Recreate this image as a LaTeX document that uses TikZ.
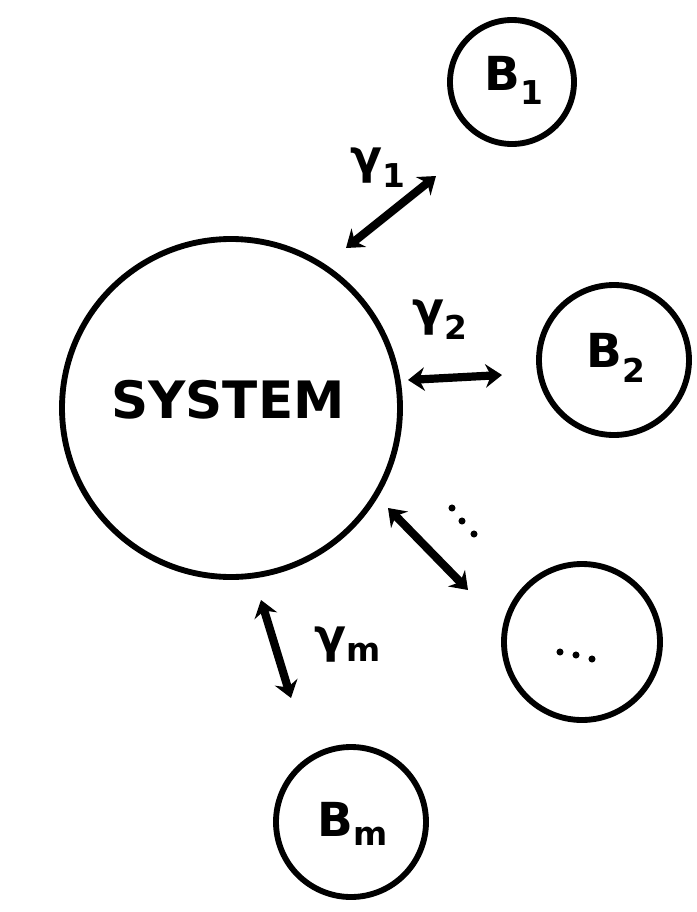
\documentclass[tikz,border=0pt]{standalone}
\usepackage{fontspec}
\setmainfont{DejaVu Sans}
\usetikzlibrary{arrows.meta}
\begin{document}
\begin{tikzpicture}[x=0.03cm,y=-0.03cm,
  ball/.style={circle,draw,line width=5pt,inner sep=0pt},
  link/.style={line width=7pt,{Stealth[length=14pt,width=20pt]}-{Stealth[length=14pt,width=20pt]}},
  lab/.style={font=\fontsize{40}{44}\selectfont\bfseries},
  dot/.style={circle,fill,inner sep=0pt,minimum size=6pt}]
\useasboundingbox (0,0) rectangle (697,912);
\node[ball,minimum size=338*0.03cm] (sys) at (231,408) {};
\node[font=\fontsize{44}{50}\selectfont\bfseries] (syst) at (228,400) {SYSTEM};
\node[ball,minimum size=124*0.03cm] (b1) at (512,82) {};
\node[lab] (b1t) at (514,80) {B\textsubscript{1}};
\node[ball,minimum size=150*0.03cm] (b2) at (614,360) {};
\node[lab] (b2t) at (616,358) {B\textsubscript{2}};
\node[ball,minimum size=156*0.03cm] (b3) at (582,642) {};
\node[ball,minimum size=150*0.03cm] (bm) at (351,822) {};
\node[lab] (bmt) at (353,824) {B\textsubscript{m}};
% dots inside the third circle
\node[dot] (d1) at (560,652) {};
\node[dot] (d2) at (576,655) {};
\node[dot] (d3) at (592,659) {};
% vertical dots label
\node[dot] (v1) at (452,508) {};
\node[dot] (v2) at (462,521) {};
\node[dot] (v3) at (474,534) {};
% arrows
\coordinate (a1s) at (346,248);
\coordinate (a1e) at (436,176);
\coordinate (a2s) at (408,380);
\coordinate (a2e) at (502,375);
\coordinate (a3s) at (388,508);
\coordinate (a3e) at (468,590);
\coordinate (a4s) at (261,600);
\coordinate (a4e) at (291,698);
\draw[link] (a1s) -- (a1e);
\draw[link] (a2s) -- (a2e);
\draw[link] (a3s) -- (a3e);
\draw[link] (a4s) -- (a4e);
% labels
\node[lab] (g1) at (378,168) {γ\textsubscript{1}};
\node[lab] (g2) at (440,320) {γ\textsubscript{2}};
\node[lab] (gm) at (348,645) {γ\textsubscript{m}};
\end{tikzpicture}
\end{document}
